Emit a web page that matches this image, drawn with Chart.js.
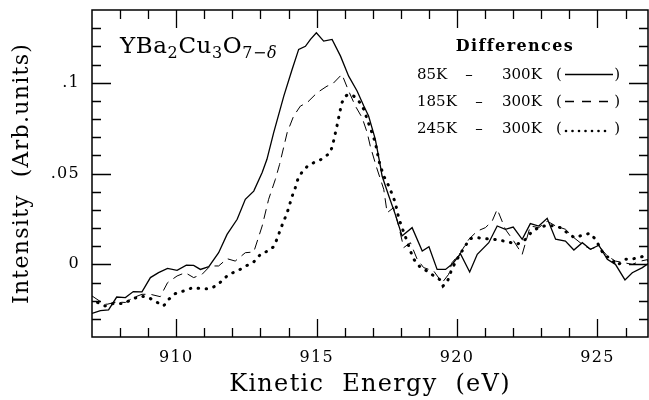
<!DOCTYPE html>
<html>
<head>
<meta charset="utf-8">
<script src="https://cdn.jsdelivr.net/npm/chart.js@4.4.0/dist/chart.umd.min.js"></script>
<style>
    html, body { margin: 0; padding: 0; background: #fff; }
</style>
</head>
<body>
<canvas id="myChart" width="649" height="400"></canvas>
<script>
    // 85K - 300K (solid)
    const energy85 = [907.0, 907.3, 907.59, 907.88, 908.19, 908.47, 908.78, 909.08, 909.37, 909.69, 910.03, 910.36, 910.62, 910.86, 911.16, 911.51, 911.81, 912.17, 912.46, 912.76, 913.06, 913.23, 913.47, 913.83, 914.12, 914.36, 914.6, 914.78, 914.99, 915.25, 915.55, 915.85, 916.14, 916.44, 916.68, 916.85, 917.09, 917.27, 917.33, 917.57, 917.8, 918.04, 918.4, 918.76, 919.0, 919.29, 919.59, 919.85, 920.12, 920.45, 920.72, 921.13, 921.43, 921.72, 922.0, 922.32, 922.61, 922.91, 923.21, 923.51, 923.86, 924.16, 924.46, 924.75, 925.05, 925.35, 925.64, 925.98, 926.24, 926.6, 926.85];
    const diff85 = [-0.027, -0.0255, -0.0251, -0.018, -0.0183, -0.015, -0.0152, -0.0073, -0.0046, -0.0022, -0.0033, -0.0004, -0.0006, -0.0028, -0.0013, 0.0064, 0.0165, 0.0248, 0.0358, 0.0403, 0.0505, 0.0578, 0.0725, 0.0926, 0.107, 0.1183, 0.120, 0.1238, 0.1275, 0.1229, 0.1238, 0.1146, 0.1036, 0.0954, 0.0871, 0.0816, 0.0688, 0.054, 0.0486, 0.0376, 0.0275, 0.0156, 0.0202, 0.0073, 0.0097, -0.0028, -0.0028, 0.0005, 0.0058, -0.0042, 0.0055, 0.0119, 0.0211, 0.0193, 0.0205, 0.0138, 0.0224, 0.0211, 0.0253, 0.0138, 0.0128, 0.0079, 0.0119, 0.0083, 0.0105, 0.0028, 0.0, -0.0086, -0.0046, -0.0018, 0.0009];

    // 185K - 300K (dashed)
    const energy185 = [907.0, 907.3, 907.53, 907.88, 908.19, 908.48, 908.78, 909.08, 909.43, 909.69, 910.03, 910.32, 910.62, 910.92, 911.21, 911.51, 911.81, 912.1, 912.46, 912.76, 913.06, 913.29, 913.53, 913.68, 913.95, 914.18, 914.42, 914.66, 915.02, 915.37, 915.55, 915.9, 916.14, 916.38, 916.62, 916.8, 916.91, 917.12, 917.39, 917.51, 917.74, 917.92, 918.1, 918.34, 918.58, 918.81, 919.17, 919.47, 919.7, 919.82, 920.12, 920.42, 920.72, 921.01, 921.25, 921.43, 921.72, 922.02, 922.32, 922.61, 922.91, 923.21, 923.51, 923.86, 924.16, 924.46, 924.75, 925.05, 925.35, 925.64, 925.94, 926.24, 926.54, 926.85];
    const diff185 = [-0.0174, -0.0205, -0.022, -0.0207, -0.021, -0.0183, -0.0165, -0.0165, -0.0178, -0.0101, -0.0064, -0.0046, -0.0073, -0.0055, -0.0009, -0.0009, 0.0031, 0.0018, 0.0064, 0.0068, 0.0211, 0.0358, 0.0468, 0.055, 0.0725, 0.0816, 0.0871, 0.089, 0.0945, 0.0981, 0.099, 0.1046, 0.0954, 0.0871, 0.0807, 0.0725, 0.0651, 0.054, 0.0413, 0.0284, 0.0312, 0.0211, 0.0092, 0.0119, 0.0028, -0.0018, -0.0037, -0.0101, -0.0055, 0.0009, 0.0064, 0.0138, 0.0183, 0.0202, 0.0238, 0.0303, 0.0193, 0.0128, 0.0055, 0.0211, 0.0202, 0.0238, 0.0211, 0.0193, 0.0147, 0.011, 0.0083, 0.0101, 0.0046, 0.0018, 0.0009, 0.0, 0.0018, 0.0028];

    // 245K - 300K (dotted)
    const energy245 = [907.2, 907.47, 907.77, 908.13, 908.42, 908.72, 909.02, 909.29, 909.55, 909.73, 909.97, 910.26, 910.6, 910.88, 911.19, 911.45, 911.87, 912.17, 912.52, 912.76, 913.03, 913.27, 913.47, 913.61, 913.71, 913.83, 913.95, 914.13, 914.24, 914.33, 914.48, 914.66, 914.9, 915.07, 915.25, 915.49, 915.59, 915.67, 915.75, 915.82, 915.9, 916.02, 916.14, 916.32, 916.5, 916.68, 916.8, 916.97, 917.09, 917.15, 917.25, 917.39, 917.57, 917.69, 917.8, 917.92, 918.04, 918.22, 918.34, 918.46, 918.7, 919.0, 919.17, 919.41, 919.5, 919.65, 919.8, 919.93, 920.1, 920.26, 920.45, 920.72, 921.01, 921.31, 921.55, 921.84, 922.14, 922.44, 922.68, 922.91, 923.21, 923.44, 923.68, 923.92, 924.18, 924.46, 924.73, 924.93, 925.22, 925.49, 925.7, 926.0, 926.29, 926.59, 926.85];
    const diff245 = [-0.021, -0.0229, -0.0215, -0.0215, -0.0193, -0.0174, -0.0183, -0.0207, -0.0229, -0.0193, -0.0161, -0.0147, -0.0128, -0.0134, -0.0134, -0.0116, -0.0055, -0.0037, -0.0006, 0.0013, 0.006, 0.0073, 0.0097, 0.0147, 0.0193, 0.0238, 0.0284, 0.0376, 0.0422, 0.0468, 0.0508, 0.0538, 0.056, 0.0569, 0.0587, 0.0615, 0.067, 0.0725, 0.078, 0.0835, 0.089, 0.0926, 0.0936, 0.0926, 0.0899, 0.0853, 0.0798, 0.0725, 0.067, 0.0624, 0.055, 0.0486, 0.0431, 0.0385, 0.034, 0.0257, 0.0202, 0.0128, 0.0073, 0.0028, -0.0018, -0.0042, -0.0064, -0.0086, -0.0119, -0.0097, -0.0032, 0.0008, 0.0055, 0.0092, 0.0141, 0.0147, 0.0141, 0.0138, 0.0132, 0.0123, 0.011, 0.0138, 0.0183, 0.0202, 0.0216, 0.0211, 0.0202, 0.0174, 0.0147, 0.016, 0.0171, 0.0138, 0.0055, 0.0028, -0.0006, 0.0028, 0.0031, 0.0042, 0.0018];

    // axis ticks
    const xTickValues = [910, 915, 920, 925];
    const xMinorTicks = [908, 909, 911, 912, 913, 914, 916, 917, 918, 919, 921, 922, 923, 924, 926];
    const yTickValues = [0, 0.05, 0.1];
    const yTickLabels = ['0', '.05', '.1'];
    const yMinorTicks = [-0.03, -0.02, -0.01, 0.01, 0.02, 0.03, 0.04, 0.06, 0.07, 0.08, 0.09, 0.11, 0.12, 0.13];

    const legendRows = ['85K', '185K', '245K'];

    function toPoints(xs, ys) {
        return xs.map(function (x, i) { return { x: x, y: ys[i] }; });
    }

    const serif = 'DejaVu Serif';

    // wider letter spacing like the old plotter font
    const spacingPlugin = {
        id: 'spacing',
        beforeDraw: function (chart) {
            chart.ctx.letterSpacing = '1.3px';
        }
    };

    // frame, inward tick marks and the text inside the plot
    const framePlugin = {
        id: 'frame',
        afterDraw: function (chart) {
            const ctx = chart.ctx;
            const a = chart.chartArea;
            const xs = chart.scales.x;
            const ys = chart.scales.y;
            ctx.save();
            ctx.strokeStyle = '#000';
            ctx.lineWidth = 1.5;
            ctx.strokeRect(a.left, a.top, a.right - a.left, a.bottom - a.top);

            ctx.lineWidth = 1.3;
            ctx.beginPath();
            function xTick(v, len) {
                const px = Math.round(xs.getPixelForValue(v)) + 0.5;
                ctx.moveTo(px, a.bottom); ctx.lineTo(px, a.bottom - len);
                ctx.moveTo(px, a.top); ctx.lineTo(px, a.top + len);
            }
            function yTick(v, len) {
                const py = Math.round(ys.getPixelForValue(v)) + 0.5;
                ctx.moveTo(a.left, py); ctx.lineTo(a.left + len, py);
                ctx.moveTo(a.right, py); ctx.lineTo(a.right - len, py);
            }
            xTickValues.forEach(function (v) { xTick(v, 18); });
            xMinorTicks.forEach(function (v) { xTick(v, 9); });
            yTickValues.forEach(function (v) { yTick(v, 19); });
            yMinorTicks.forEach(function (v) { yTick(v, 9); });
            ctx.stroke();

            // compound name
            ctx.fillStyle = '#000';
            ctx.letterSpacing = '0.6px';
            ctx.textBaseline = 'alphabetic';
            ctx.textAlign = 'left';
            const parts = [['Y', 0], ['Ba', 0], ['2', 1], ['Cu', 0], ['3', 1], ['O', 0], ['7\u2212', 1], ['\u03b4', 2]];
            let cx = a.left + 28;
            const base = 53;
            parts.forEach(function (p) {
                if (p[1] === 0) {
                    ctx.font = '23px "' + serif + '"';
                    ctx.fillText(p[0], cx, base);
                } else {
                    ctx.font = (p[1] === 2 ? 'italic ' : '') + '16px "' + serif + '"';
                    ctx.fillText(p[0], cx, base + 5);
                }
                cx += ctx.measureText(p[0]).width;
            });

            // legend block
            ctx.textBaseline = 'middle';
            ctx.textAlign = 'center';
            ctx.letterSpacing = '1.4px';
            ctx.font = 'bold 16px "' + serif + '"';
            ctx.fillText('Differences', 515, 47);

            ctx.letterSpacing = '0px';
            ctx.font = '15px "' + serif + '"';
            const rowY = [75, 102, 129];
            const dashX = [469, 479, 479];
            legendRows.forEach(function (t, i) {
                const y = rowY[i];
                ctx.textAlign = 'left';
                ctx.fillText(t, 417, y);
                ctx.fillText('300K', 502, y);
                ctx.fillText('(', 556, y);
                ctx.textAlign = 'center';
                ctx.fillText('\u2013', dashX[i], y);
                ctx.textAlign = 'right';
                ctx.fillText(')', 620, y);
            });
            ctx.lineWidth = 1.3;
            ctx.beginPath();
            ctx.moveTo(565, 74.5); ctx.lineTo(613, 74.5);
            ctx.stroke();
            ctx.beginPath();
            [565, 582, 599].forEach(function (x) {
                ctx.moveTo(x, 101.5); ctx.lineTo(x + 9, 101.5);
            });
            ctx.stroke();
            for (let k = 0; k < 7; k++) {
                ctx.beginPath();
                ctx.arc(566 + k * 6.5, 131, 1.3, 0, Math.PI * 2);
                ctx.fill();
            }
            ctx.restore();
        }
    };

    const ctx = document.getElementById('myChart');
    const chart = new Chart(ctx, {
        type: 'line',
        data: {
            datasets: [{
                    label: '85K - 300K',
                    data: toPoints(energy85, diff85),
                    borderColor: '#000',
                    borderWidth: 1.3,
                    pointRadius: 0,
                    tension: 0
                }, {
                    label: '185K - 300K',
                    data: toPoints(energy185, diff185),
                    borderColor: '#000',
                    borderWidth: 1,
                    borderDash: [10, 6],
                    pointRadius: 0,
                    tension: 0
                }, {
                    label: '245K - 300K',
                    data: toPoints(energy245, diff245),
                    borderColor: '#000',
                    borderWidth: 3,
                    borderDash: [0.5, 7.5],
                    borderCapStyle: 'round',
                    pointRadius: 0,
                    tension: 0
                }]
        },
        options: {
            responsive: false,
            animation: false,
            layout: { padding: { top: 10, right: 1, left: 0, bottom: 0 } },
            plugins: {
                legend: { display: false },
                tooltip: { enabled: false }
            },
            scales: {
                x: {
                    type: 'linear',
                    min: 907,
                    max: 926.8,
                    afterBuildTicks: function (s) { s.ticks = xTickValues.map(function (v) { return { value: v }; }); },
                    afterFit: function (s) {
                        s.height = 63;
                        s.paddingLeft = 0;
                        s.paddingRight = 0;
                    },
                    grid: { display: false, drawTicks: false },
                    border: { display: false },
                    ticks: {
                        color: '#000',
                        padding: 11,
                        maxRotation: 0,
                        autoSkip: false,
                        font: { family: serif, size: 16 },
                        callback: function (v) { return String(v); }
                    },
                    title: {
                        display: true,
                        text: 'Kinetic  Energy  (eV)',
                        color: '#000',
                        font: { family: serif, size: 24 },
                        padding: { top: 0, bottom: 1 }
                    }
                },
                y: {
                    min: -0.04,
                    max: 0.14,
                    afterBuildTicks: function (s) { s.ticks = yTickValues.map(function (v) { return { value: v }; }); },
                    afterFit: function (s) {
                        s.width = 92;
                        s.paddingTop = 0;
                        s.paddingBottom = 0;
                    },
                    grid: { display: false, drawTicks: false },
                    border: { display: false },
                    ticks: {
                        color: '#000',
                        padding: 12,
                        autoSkip: false,
                        font: { family: serif, size: 16 },
                        callback: function (v, i) { return yTickLabels[i]; }
                    },
                    title: {
                        display: true,
                        text: 'Intensity  (Arb.units)',
                        color: '#000',
                        font: { family: serif, size: 22 },
                        padding: { top: 9, bottom: 0 }
                    }
                }
            }
        },
        plugins: [spacingPlugin, framePlugin]
    });
</script>
</body>
</html>
